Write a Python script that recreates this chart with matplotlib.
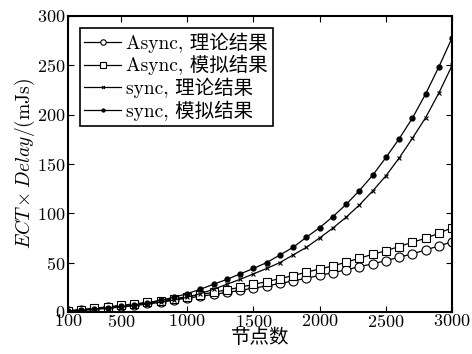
import numpy as np
import matplotlib
matplotlib.use("Agg")
import matplotlib.pyplot as plt

plt.rcParams['font.family'] = ['cmr10', 'Noto Sans CJK SC']
plt.rcParams['mathtext.fontset'] = 'cm'
plt.rcParams['axes.formatter.use_mathtext'] = True

nodes = np.arange(100, 3001, 100)

async_theory = [1.0, 2.0, 3.3, 4.6, 6.0, 7.4, 8.9, 10.5, 12.2, 14.0,
                15.8, 17.7, 19.7, 21.8, 24.0, 26.3, 28.8, 31.4, 34.1, 37.0,
                39.8, 42.6, 45.9, 48.6, 52.0, 55.4, 58.8, 62.8, 66.9, 71.0]
async_sim = [1.2, 2.4, 3.7, 5.1, 6.6, 8.1, 9.7, 11.4, 13.3, 15.4,
             17.6, 19.9, 22.4, 25.0, 27.8, 30.7, 33.7, 36.8, 40.2, 43.5,
             46.6, 50.4, 54.4, 58.4, 62.0, 66.2, 70.6, 74.6, 79.7, 85.4]
sync_theory = [0.7, 1.5, 2.5, 3.6, 4.9, 6.3, 7.9, 9.7, 12.0, 14.8,
               18.5, 23.0, 28.0, 33.0, 38.5, 44.0, 50.0, 57.7, 65.5, 75.0,
               85.0, 96.0, 108.4, 122.6, 138.0, 156.0, 176.0, 197.0, 222.0, 250.0]
sync_sim = [0.8, 1.8, 2.9, 4.1, 5.5, 7.1, 9.0, 11.8, 14.8, 18.5,
            23.0, 28.0, 33.0, 38.5, 44.0, 50.0, 57.7, 65.5, 75.7, 85.4,
            96.6, 109.0, 123.0, 138.5, 156.5, 175.5, 196.5, 221.0, 248.5, 278.0]

labels = ['Async, 理论结果', 'Async, 模拟结果', 'sync, 理论结果', 'sync, 模拟结果']

fig = plt.figure(figsize=(4.72, 3.54), dpi=100)
ax = fig.add_axes([0.144, 0.119, 0.814, 0.836])

lw = 0.9
ax.plot(nodes, async_theory, color='black', lw=lw, marker='o', ms=6.5,
        mfc='white', mec='black', mew=0.8, label=labels[0])
ax.plot(nodes, async_sim, color='black', lw=lw, marker='s', ms=6.2,
        mfc='white', mec='black', mew=0.8, label=labels[1])
ax.plot(nodes, sync_theory, color='black', lw=lw, marker='x', ms=3.5,
        mec='black', mew=0.8, label=labels[2])
ax.plot(nodes, sync_sim, color='black', lw=lw, marker='o', ms=3.5,
        mfc='black', mec='black', label=labels[3])

ax.set_xlim(100, 3000)
ax.set_ylim(0, 300)
ax.set_xticks([100, 500, 1000, 1500, 2000, 2500, 3000])
ax.set_yticks(np.arange(0, 301, 50))
ax.tick_params(direction='in', top=True, right=True, length=4, width=0.8,
               labelsize=13, pad=1)
ax.tick_params(axis='y', pad=2)
for s in ax.spines.values():
    s.set_linewidth(1.5)

ax.set_xlabel('节点数', fontsize=14, labelpad=-1)
ax.set_ylabel(r'$ECT\times Delay$/(mJs)', fontsize=14, labelpad=0)

leg = ax.legend(loc='upper left', fontsize=14, frameon=True, fancybox=False,
                edgecolor='black', framealpha=1, handlelength=1.9,
                markerscale=0.6, borderpad=0.25, labelspacing=0.12,
                handletextpad=0.25, borderaxespad=0.6)
leg.get_frame().set_linewidth(1.2)

fig.savefig('out.png', dpi=100)
